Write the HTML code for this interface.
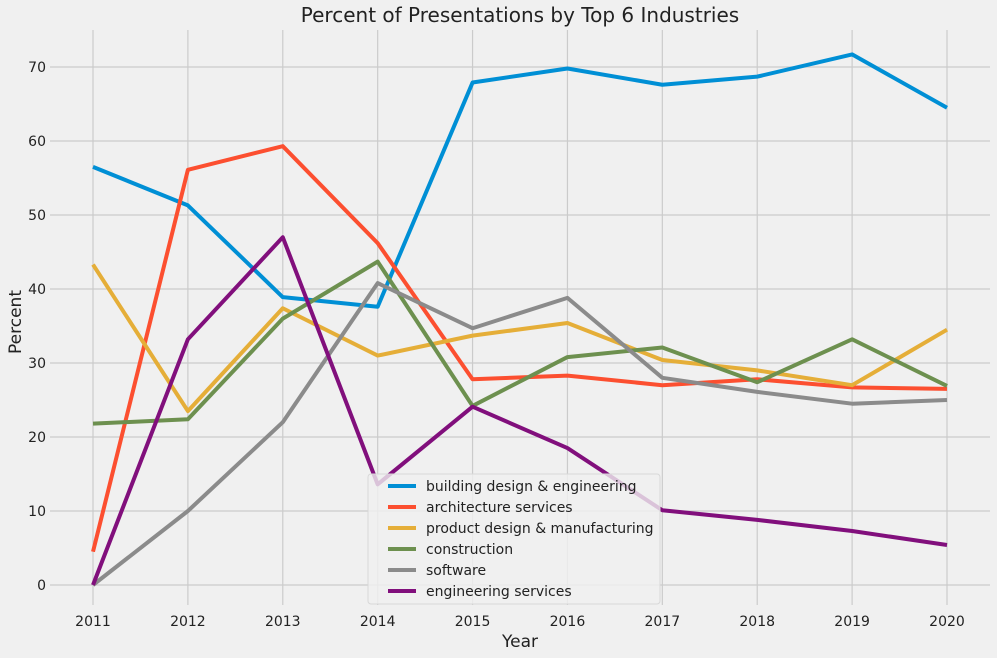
<!DOCTYPE html>
<html><head><meta charset="utf-8"><style>
body{margin:0;background:#f0f0f0;}
svg{display:block;font-family:"DejaVu Sans","Liberation Sans",sans-serif;}
</style></head><body>
<svg id="chart" width="997" height="658">
<rect width="997" height="658" fill="#f0f0f0"/>
<g id="grid"></g><g id="ticks"></g><g id="lines"></g>
<text x="520" y="22" text-anchor="middle" font-size="20" fill="#222">Percent of Presentations by Top 6 Industries</text>
<text x="520" y="647" text-anchor="middle" font-size="17" fill="#222">Year</text>
<text x="21" y="322" text-anchor="middle" font-size="17" fill="#222" transform="rotate(-90 21 322)">Percent</text>
<g id="legend"></g>
</svg>
<script>
const years=[2011,2012,2013,2014,2015,2016,2017,2018,2019,2020];
const yTicks=[0,10,20,30,40,50,60,70];
const seriesNames=["building design & engineering","architecture services","product design & manufacturing","construction","software","engineering services"];
const colors=["#008fd5","#fc4f30","#e5ae38","#6d904f","#8b8b8b","#810f7c"];
const building=[56.5,51.3,38.9,37.6,67.9,69.8,67.6,68.7,71.7,64.5];
const architecture=[4.5,56.1,59.3,46.2,27.8,28.3,27.0,27.8,26.7,26.5];
const product=[43.3,23.5,37.4,31.0,33.7,35.4,30.4,29.0,27.0,34.5];
const construction=[21.8,22.4,36.0,43.7,24.2,30.8,32.1,27.4,33.2,26.9];
const software=[0,10.0,22.0,40.8,34.7,38.8,28.0,26.1,24.5,25.0];
const engineering=[0,33.2,47.0,13.6,24.1,18.5,10.1,8.8,7.3,5.4];
const allSeries=[building,architecture,product,construction,software,engineering];
const NS="http://www.w3.org/2000/svg";
function xs(y){return 93+(y-2011)*(947-93)/9;}
function ys(v){return 585-v*(585-67)/70;}
function mk(t,a,p){const e=document.createElementNS(NS,t);for(const k in a)e.setAttribute(k,a[k]);p.appendChild(e);return e;}
const grid=document.getElementById('grid'),ticks=document.getElementById('ticks'),lines=document.getElementById('lines'),leg=document.getElementById('legend');
years.forEach(y=>{const l=mk('line',{x1:xs(y),x2:xs(y),y1:30,y2:605,stroke:'#cbcbcb','stroke-width':1.2},grid);


const t=mk('text',{x:xs(y),y:626,'text-anchor':'middle','font-size':14,fill:'#222'},ticks);t.textContent=y;

});
yTicks.forEach(v=>{const l=mk('line',{x1:50,x2:990,y1:ys(v),y2:ys(v),stroke:'#cbcbcb','stroke-width':1.2},grid);


const t=mk('text',{x:46,y:ys(v)+5,'text-anchor':'end','font-size':14,fill:'#222'},ticks);t.textContent=v;

});
allSeries.forEach((s,i)=>{const p=mk('polyline',{points:s.map((v,j)=>xs(years[j])+','+ys(v)).join(' '),fill:'none',stroke:colors[i],'stroke-width':4,'stroke-linejoin':'round'},lines);

});
const bx=mk('rect',{x:368,y:474,width:292,height:130,fill:'#f0f0f0','fill-opacity':0.8,stroke:'#d8d8d8',rx:3},leg);


seriesNames.forEach((n,i)=>{const y=486+i*21;const g=mk('g',{},leg);


mk('line',{x1:388,x2:416,y1:y,y2:y,stroke:colors[i],'stroke-width':4},g);
const t=mk('text',{x:426,y:y+5,'font-size':14,fill:'#222'},g);t.textContent=n;});
</script>
</body></html>
